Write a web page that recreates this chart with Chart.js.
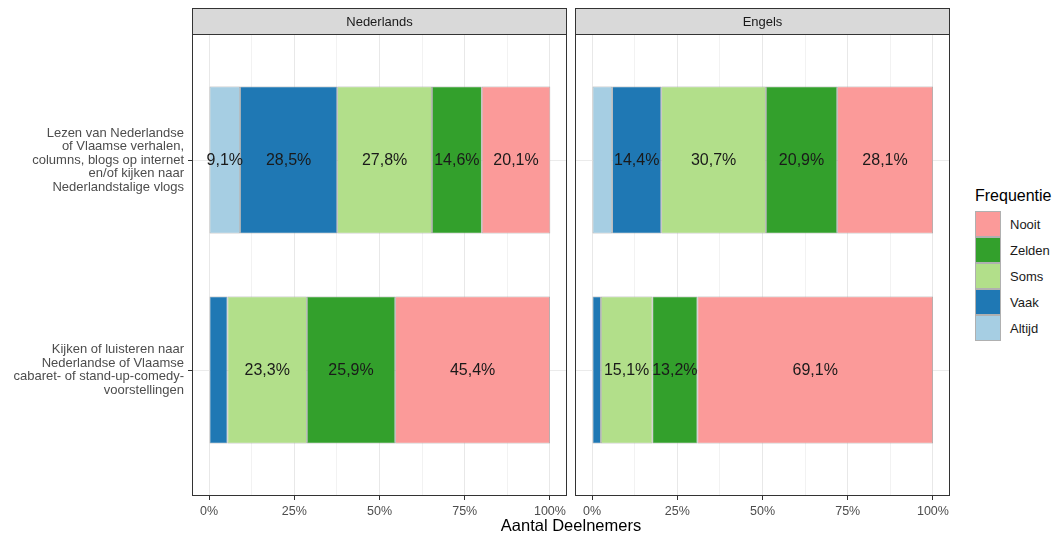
<!DOCTYPE html>
<html>
<head>
<meta charset="utf-8">
<script src="https://cdn.jsdelivr.net/npm/chart.js@4/dist/chart.umd.min.js"></script>
<style>
  html, body { margin: 0; padding: 0; background: #fff; }
  body { width: 1055px; height: 535px; position: relative; overflow: hidden;
         font-family: "Liberation Sans", Arial, sans-serif; }
  canvas { position: absolute; top: 0; }
  #c-nl { left: 0; }
  #c-en { left: 572px; }
  #x-title { position: absolute; left: 192px; width: 758px; top: 516px;
             text-align: center; font-size: 16.5px; color: #000; }
  #legend { position: absolute; left: 975px; top: 187px; }
  #legend .lg-title { font-size: 16px; color: #000; margin-bottom: 6px; }
  #legend .lg-row { display: flex; align-items: center; height: 26px; }
  #legend .lg-key { width: 24px; height: 24px; border: 1px solid #b0b0b0; }
  #legend .lg-label { margin-left: 9px; font-size: 13px; color: #1a1a1a; }
</style>
</head>
<body>
<canvas id="c-nl" width="572" height="535"></canvas>
<canvas id="c-en" width="383" height="535"></canvas>
<div id="x-title">Aantal Deelnemers</div>
<div id="legend"></div>
<script>
// ── Data ──────────────────────────────────────────────────────────────────
const activities = [
  ['Lezen van Nederlandse', 'of Vlaamse verhalen,', 'columns, blogs op internet',
   'en/of kijken naar', 'Nederlandstalige vlogs'],
  ['Kijken of luisteren naar', 'Nederlandse of Vlaamse',
   'cabaret- of stand-up-comedy-', 'voorstellingen'],
];
const frequencies = ['Altijd', 'Vaak', 'Soms', 'Zelden', 'Nooit'];
const colors      = ['#A6CEE3', '#1F78B4', '#B2DF8A', '#33A02C', '#FB9A99'];

// one row per frequency, one value per activity (percent)
const nederlands = [
  [9.1, 0], [28.5, 5.4], [27.8, 23.3], [14.6, 25.9], [20.1, 45.4],
];
const engels = [
  [5.9, 0], [14.4, 2.6], [30.7, 15.1], [20.9, 13.2], [28.1, 69.1],
];
const xTicks = [0, 12.5, 25, 37.5, 50, 62.5, 75, 87.5, 100];

// ── Helpers ───────────────────────────────────────────────────────────────
const FONT = '"Liberation Sans", Arial, sans-serif';
const _fmt = v => v.toFixed(1).replace('.', ',') + '%';

const panelPlugin = {
  id: 'panel',
  beforeDraw(chart, args, opts) {
    const { ctx, chartArea: a } = chart;
    ctx.save();
    ctx.fillStyle = '#d9d9d9';
    ctx.fillRect(a.left, 8, a.right - a.left, a.top - 8);
    ctx.strokeStyle = '#333';
    ctx.lineWidth = 1;
    ctx.strokeRect(a.left + 0.5, 8.5, a.right - a.left - 1, a.top - 8);
    ctx.fillStyle = '#1a1a1a';
    ctx.font = `13px ${FONT}`;
    ctx.textAlign = 'center';
    ctx.textBaseline = 'middle';
    ctx.fillText(opts.label, (a.left + a.right) / 2, (8 + a.top) / 2 + 1);
    ctx.restore();
  },
  afterDraw(chart) {
    const { ctx, chartArea: a } = chart;
    ctx.save();
    ctx.strokeStyle = '#333';
    ctx.lineWidth = 1;
    ctx.strokeRect(a.left + 0.5, a.top + 0.5, a.right - a.left - 1, a.bottom - a.top - 1);
    ctx.restore();
  },
};

const valueLabels = {
  id: 'valueLabels',
  afterDatasetsDraw(chart) {
    const { ctx } = chart;
    ctx.save();
    ctx.fillStyle = '#1a1a1a';
    ctx.font = `16px ${FONT}`;
    ctx.textAlign = 'center';
    ctx.textBaseline = 'middle';
    chart.data.datasets.forEach((ds, i) => {
      chart.getDatasetMeta(i).data.forEach((bar, j) => {
        const v = ds.data[j].x;
        if (v < 8) return;
        const { x, base, y } = bar.getProps(['x', 'base', 'y'], true);
        ctx.fillText(_fmt(v), (x + base) / 2, y + 1);
      });
    });
    ctx.restore();
  },
};

function _chart(id, title, values, showY) {
  const datasets = frequencies.map((f, i) => ({
    label: f,
    data: values[i].map((v, j) => ({ x: v, y: j })),
    backgroundColor: colors[i],
    borderColor: '#a0a0a0',
    borderWidth: c => (c.raw && c.raw.x > 0 ? 0.8 : 0),
    borderSkipped: false,
    barPercentage: 0.7,
    categoryPercentage: 1,
  }));

  return new Chart(document.getElementById(id), {
    type: 'bar',
    data: { datasets },
    plugins: [panelPlugin, valueLabels],
    options: {
      indexAxis: 'y',
      responsive: false,
      animation: false,
      layout: { padding: { top: 34, right: 5, bottom: 0, left: showY ? 0 : 3 } },
      plugins: {
        legend: { display: false },
        tooltip: { enabled: false },
        panel: { label: title },
      },
      scales: {
        x: {
          type: 'linear',
          stacked: true,
          min: -5,
          max: 105,
          afterBuildTicks: s => { s.ticks = xTicks.map(v => ({ value: v })); },
          afterFit: s => { s.height = 39; },
          border: { display: false },
          grid: {
            color: c => (c.tick && c.tick.value % 25 === 0 ? '#e8e8e8' : '#f2f2f2'),
            tickColor: c => (c.tick && c.tick.value % 25 === 0 ? '#333' : 'rgba(0,0,0,0)'),
            tickLength: 4,
          },
          ticks: {
            padding: 4,
            maxRotation: 0,
            autoSkip: false,
            color: '#4d4d4d',
            font: { family: FONT, size: 12.5 },
            callback: v => (v % 25 === 0 ? v + '%' : ''),
          },
        },
        y: {
          type: 'linear',
          stacked: true,
          reverse: true,
          offset: false,
          min: -0.6,
          max: 1.6,
          afterBuildTicks: s => { s.ticks = activities.map((a, i) => ({ value: i })); },
          afterFit: s => { s.width = showY ? 192 : 0; },
          border: { display: false },
          grid: {
            offset: false,
            color: '#ebebeb',
            tickColor: '#333',
            tickLength: 4,
            drawTicks: showY,
          },
          ticks: {
            display: showY,
            padding: 4,
            color: '#4d4d4d',
            font: { family: FONT, size: 13, lineHeight: 1.04 },
            callback: v => activities[v],
          },
        },
      },
    },
  });
}

// ── Legend ────────────────────────────────────────────────────────────────
const legendEl = document.getElementById('legend');
legendEl.innerHTML = '<div class="lg-title">Frequentie</div>' +
  frequencies.map((f, i) => ({ f, c: colors[i] })).reverse().map(d => `
    <div class="lg-row">
      <div class="lg-key" style="background:${d.c}"></div>
      <div class="lg-label">${d.f}</div>
    </div>`).join('');

// ── Init ──────────────────────────────────────────────────────────────────
_chart('c-nl', 'Nederlands', nederlands, true);
_chart('c-en', 'Engels', engels, false);
</script>
</body>
</html>
